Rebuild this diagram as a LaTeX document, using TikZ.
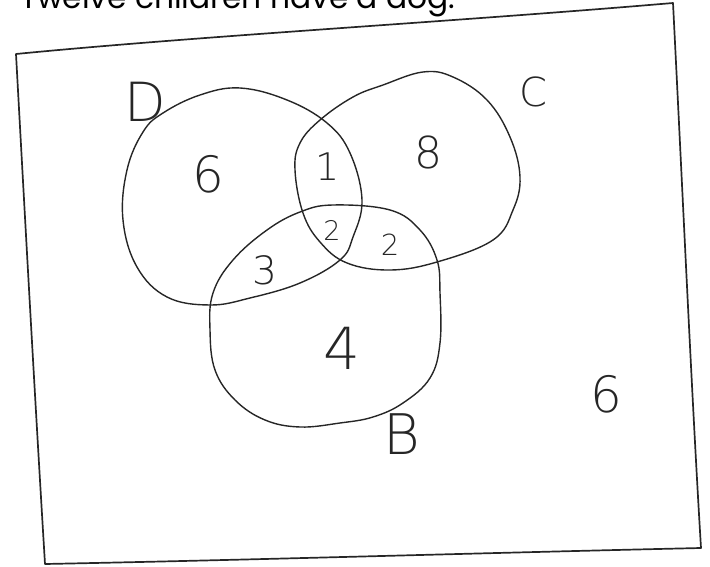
\documentclass[tikz,border=0pt]{standalone}
\usepackage{fontspec}
\newfontfamily\titlefont{Poppins}
\newfontfamily\handfont{DejaVu Sans ExtraLight}
\begin{document}
\begin{tikzpicture}[x=1pt,y=-1pt, line cap=round, line join=round,
  pen/.style={line width=1.4pt, black!85},
  boxpen/.style={line width=1.7pt, black!85},
  hand/.style={inner sep=0pt, text=black!85, font=\handfont\fontsize{#1}{#1}\selectfont}]
\useasboundingbox (0,0) rectangle (710,567);
\clip (0,0) rectangle (710,567);
% title, cut at the top
\node[anchor=base west, inner sep=0pt] (title) at (20,9)
  {\resizebox{435pt}{!}{\titlefont\fontsize{30}{30}\selectfont Twelve children have a dog.}};
% frame
\coordinate (tl) at (16,54);
\coordinate (tr) at (673,3);
\coordinate (br) at (701,548);
\coordinate (bl) at (45,564);
\draw[boxpen] (tl) .. controls (200,36) and (450,22) .. (tr)
  .. controls (683,200) and (692,400) .. (br)
  .. controls (480,553) and (250,560) .. (bl)
  .. controls (35,400) and (24,200) .. (tl);
% circle D
\draw[pen] plot[smooth cycle, tension=0.65] coordinates {
  (163,113) (200,95) (240,88) (287,100) (327,123) (350,153) (362,200)
  (353,237) (340,260) (300,283) (250,298) (210,305) (167,297) (137,267)
  (123,220) (127,170) (143,132)};
% circle C
\draw[pen] plot[smooth cycle, tension=0.65] coordinates {
  (295,170) (300,143) (320,120) (353,97) (383,85) (423,72) (453,77)
  (487,100) (510,137) (520,177) (513,210) (493,240) (437,262) (390,270)
  (347,263) (320,242) (303,213)};
% circle B
\draw[pen] plot[smooth cycle, tension=0.65] coordinates {
  (333,205) (390,210) (420,230) (437,260) (440,293) (440,343) (430,378)
  (403,403) (373,417) (340,423) (300,427) (265,420) (235,400) (215,370)
  (210,330) (213,293) (233,260) (267,230) (300,212)};
% set labels
\node[hand=54] (labD) at (145,102) {D};
\node[hand=40] (labC) at (533,92) {C};
\node[hand=56] (labB) at (402,434) {B};
% counts
\node[hand=50] (nD) at (208,174) {6};
\node[hand=38] (nDC) at (328,167) {1};
\node[hand=44] (nC) at (428,152) {8};
\node[hand=27] (nDCB) at (332,230) {2};
\node[hand=29] (nCB) at (390,245) {2};
\node[hand=39] (nDB) at (265,270) {3};
\node[hand=58] (nB) at (342,348) {4};
\node[hand=50] (nOut) at (606,394) {6};
\end{tikzpicture}
\end{document}
